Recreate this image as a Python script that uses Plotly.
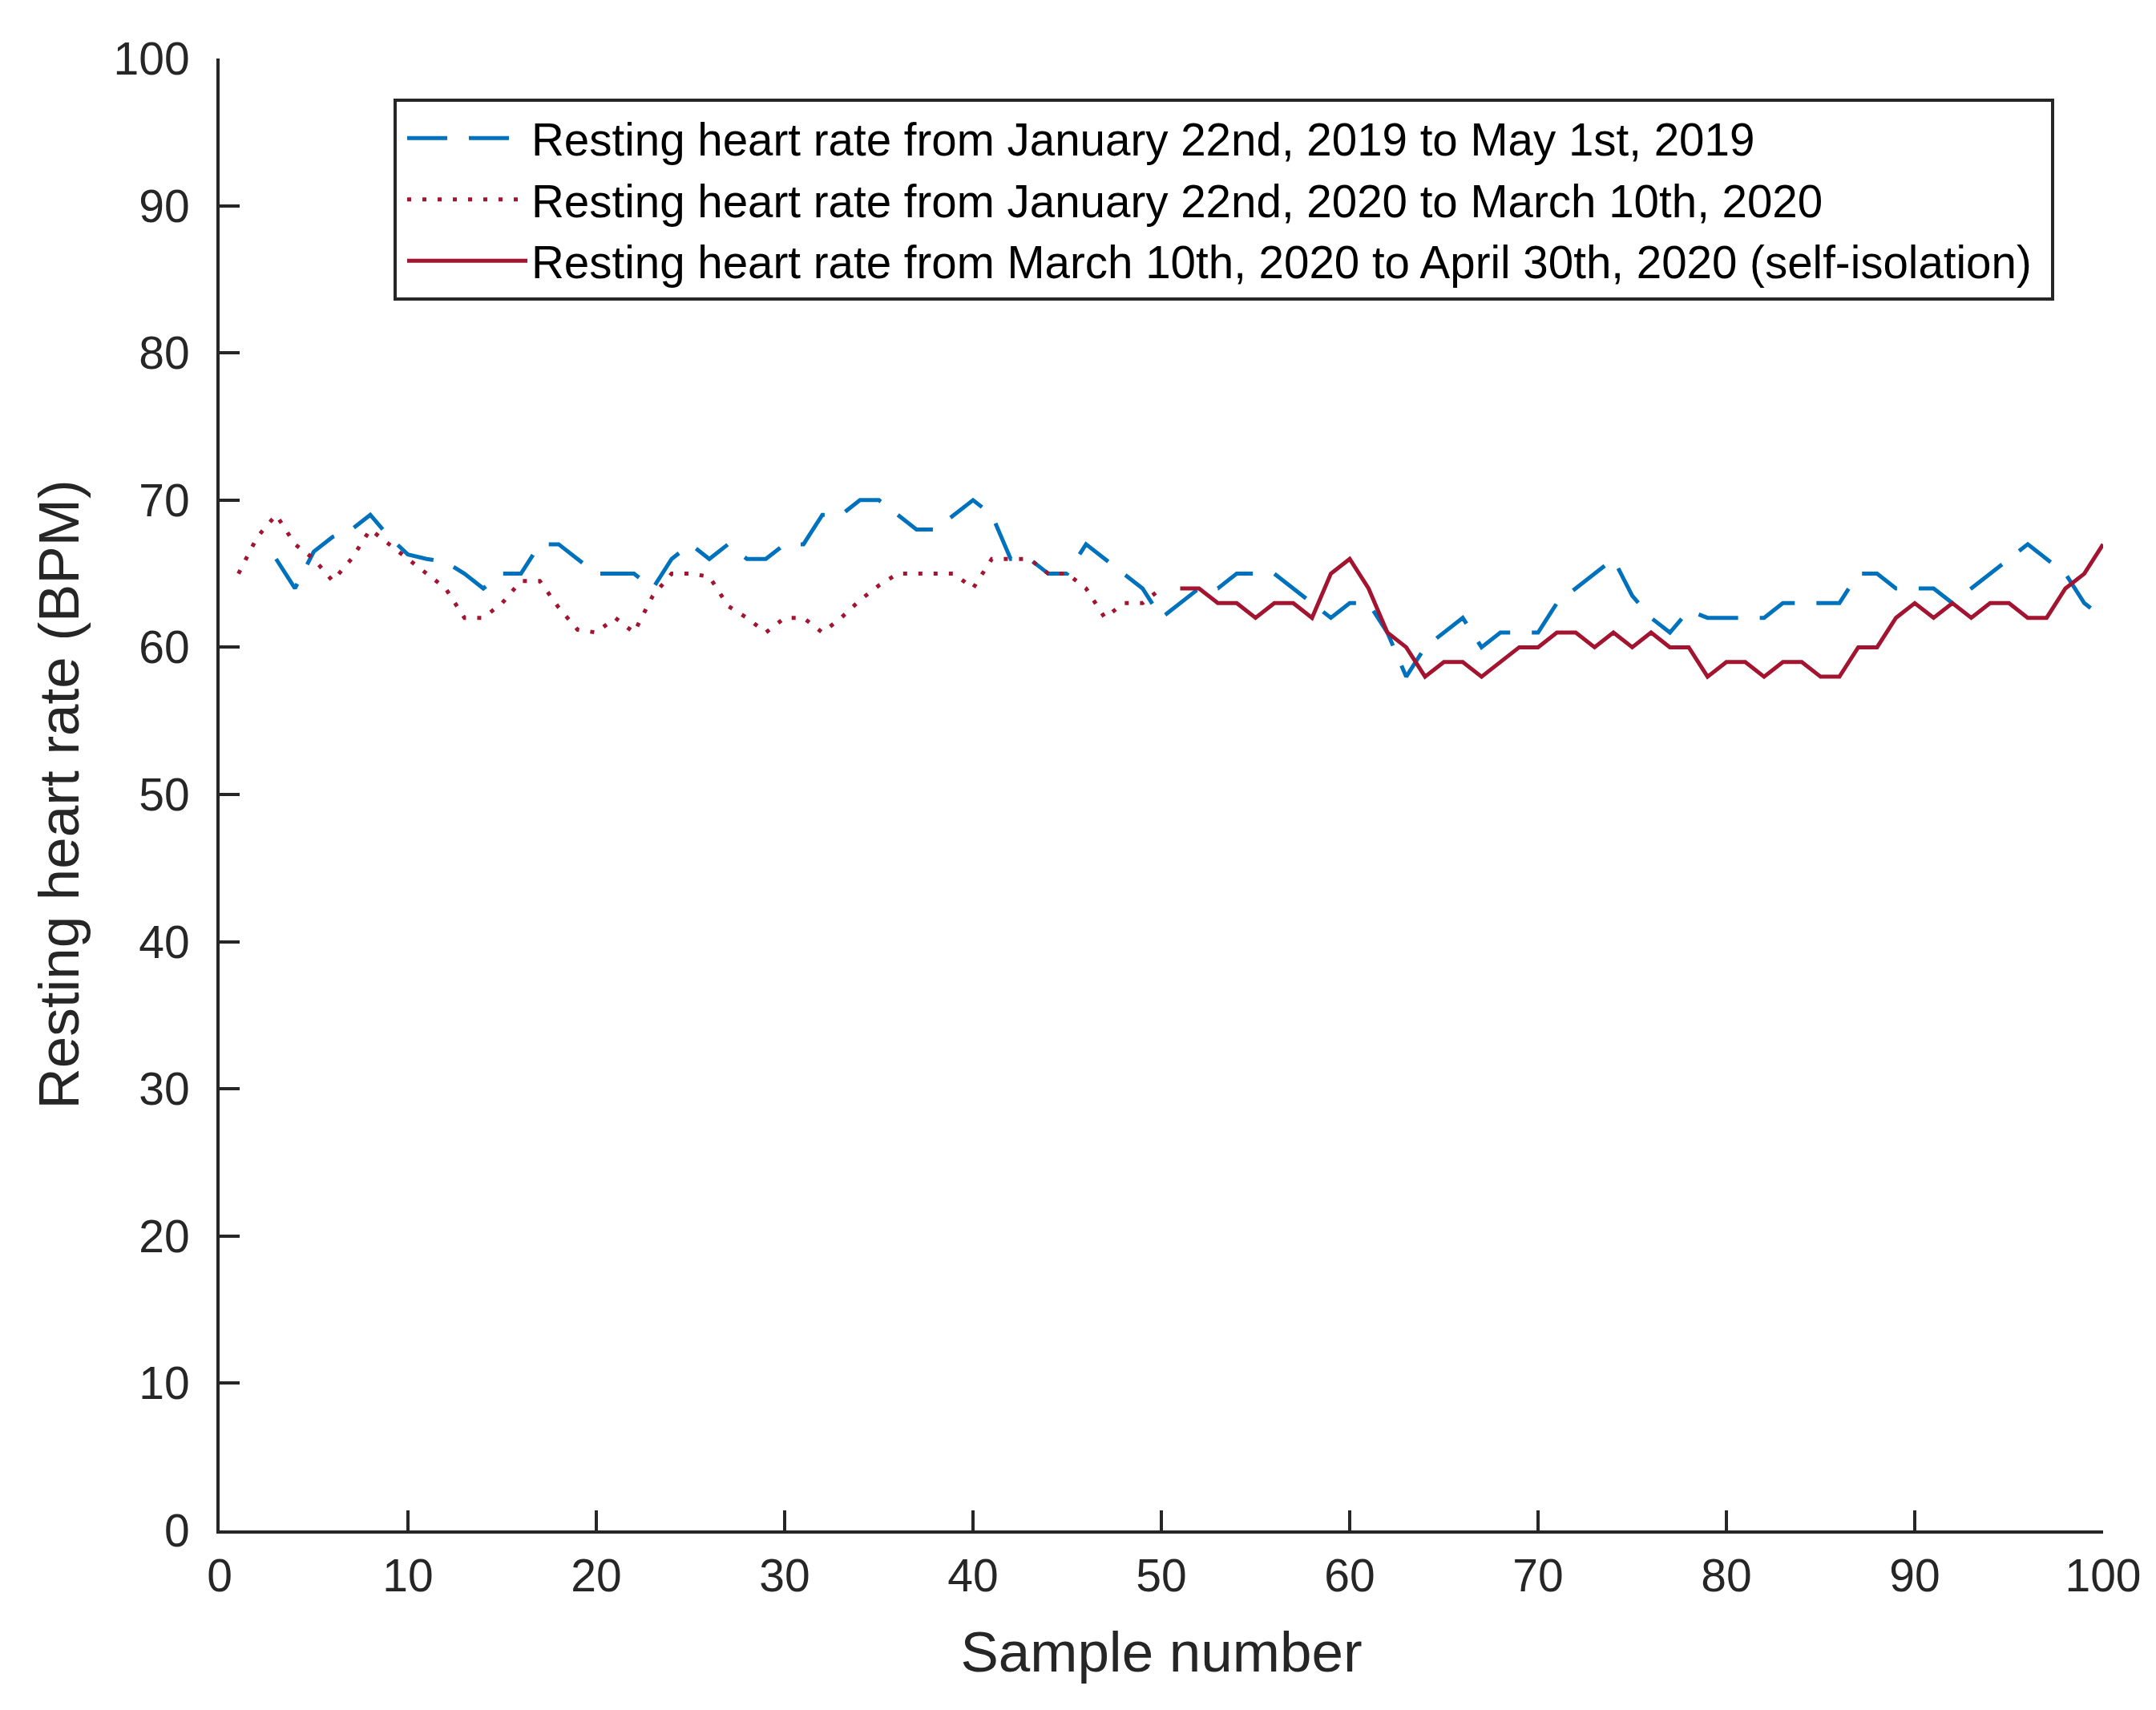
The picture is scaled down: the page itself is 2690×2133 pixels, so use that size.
import plotly.graph_objects as go

samples_2019 = list(range(3, 101))
bpm_2019 = [66, 64, 66.5, 67.5, 68, 69, 67.5, 66.3,
            66, 65.8, 65, 64, 65, 65, 67, 67, 66, 65,
            65, 65, 64, 66, 67, 66, 67, 66, 66, 67,
            67, 69, 69, 70, 70, 69, 68, 68, 69, 70,
            69, 66, 66, 65, 65, 67, 66, 65, 64, 62,
            63, 64, 64, 65, 65, 65, 64, 63, 62, 63,
            63, 61, 58, 60, 61, 62, 60, 61, 61, 61,
            63, 64, 65, 66, 63.5, 62, 61, 62.5, 62, 62,
            62, 62, 63, 63, 63, 63, 65, 65, 64, 64,
            64, 63, 64, 65, 66, 67, 66, 65, 63, 62]

samples_2020_pre = list(range(1, 51))
bpm_2020_pre = [65, 67.5, 69, 67, 66, 64.5, 66, 68, 67, 66,
                65, 64, 62, 62, 63, 64.5, 64.5, 62.7, 61.2, 61,
                62, 61, 63.5, 65, 65, 64.8, 62.8, 62, 61, 62,
                62, 61, 62, 63.2, 64.2, 65, 65, 65, 65, 64,
                66, 66, 66, 65, 65, 64, 62, 63, 63, 64]

samples_2020_iso = list(range(51, 101))
bpm_2020_iso = [64, 64, 63, 63, 62, 63, 63, 62, 65, 66,
                64, 61, 60, 58, 59, 59, 58, 59, 60, 60,
                61, 61, 60, 61, 60, 61, 60, 60, 58, 59,
                59, 58, 59, 59, 58, 58, 60, 60, 62, 63,
                62, 63, 62, 63, 63, 62, 62, 64, 65, 67]

names = [
    "Resting heart rate from January 22nd, 2019 to May 1st, 2019",
    "Resting heart rate from January 22nd, 2020 to March 10th, 2020",
    "Resting heart rate from March 10th, 2020 to April 30th, 2020 (self-isolation)",
]

BLUE = "#0072BD"
RED = "#A2142F"
AX = "#262626"
FONT = "Liberation Sans, Arial, sans-serif"

# plot-area geometry in pixels (for placing the legend box)
L, R, T, B = 266, 74, 65, 232
W, H = 2690, 2133
PW, PH = W - L - R, H - T - B

fig = go.Figure()
fig.add_trace(go.Scatter(x=samples_2019, y=bpm_2019, mode="lines", name=names[0],
                         line=dict(color=BLUE, width=5, dash="50px,27px")))
fig.add_trace(go.Scatter(x=samples_2020_pre, y=bpm_2020_pre, mode="lines", name=names[1],
                         line=dict(color=RED, width=5, dash="5px,14px")))
fig.add_trace(go.Scatter(x=samples_2020_iso, y=bpm_2020_iso, mode="lines", name=names[2],
                         line=dict(color=RED, width=5)))

axis_common = dict(
    range=[0, 100], dtick=10, tick0=0,
    showline=True, linecolor=AX, linewidth=4, mirror=False,
    ticks="inside", ticklen=25, tickwidth=4, tickcolor=AX,
    showgrid=False, zeroline=False,
    tickfont=dict(family=FONT, size=57, color=AX),
)

fig.add_shape(type="rect", xref="paper", yref="paper",
              x0=(485 - L) / PW, x1=(2553 - L) / PW,
              y0=(H - B - 365) / PH, y1=(H - B - 117) / PH,
              line=dict(color=AX, width=4), fillcolor="white", layer="above")

fig.update_layout(
    width=W, height=H,
    margin=dict(l=L, r=R, t=T, b=B),
    paper_bgcolor="white", plot_bgcolor="white",
    font=dict(family=FONT, color=AX),
    xaxis=dict(**axis_common, ticklabelstandoff=4,
               title=dict(text="Sample number", font=dict(family=FONT, size=71, color=AX), standoff=40)),
    yaxis=dict(**axis_common, ticklabelstandoff=22,
               title=dict(text="Resting heart rate (BPM)", font=dict(family=FONT, size=71, color=AX), standoff=21)),
    legend=dict(
        x=(495 - L) / PW, y=(H - B - 121) / PH, xanchor="left", yanchor="top",
        borderwidth=0, bgcolor="rgba(0,0,0,0)",
        font=dict(family=FONT, size=56.5, color="black"),
        itemwidth=150, tracegroupgap=0,
    ),
    showlegend=True,
)

fig.write_html("out.html")
